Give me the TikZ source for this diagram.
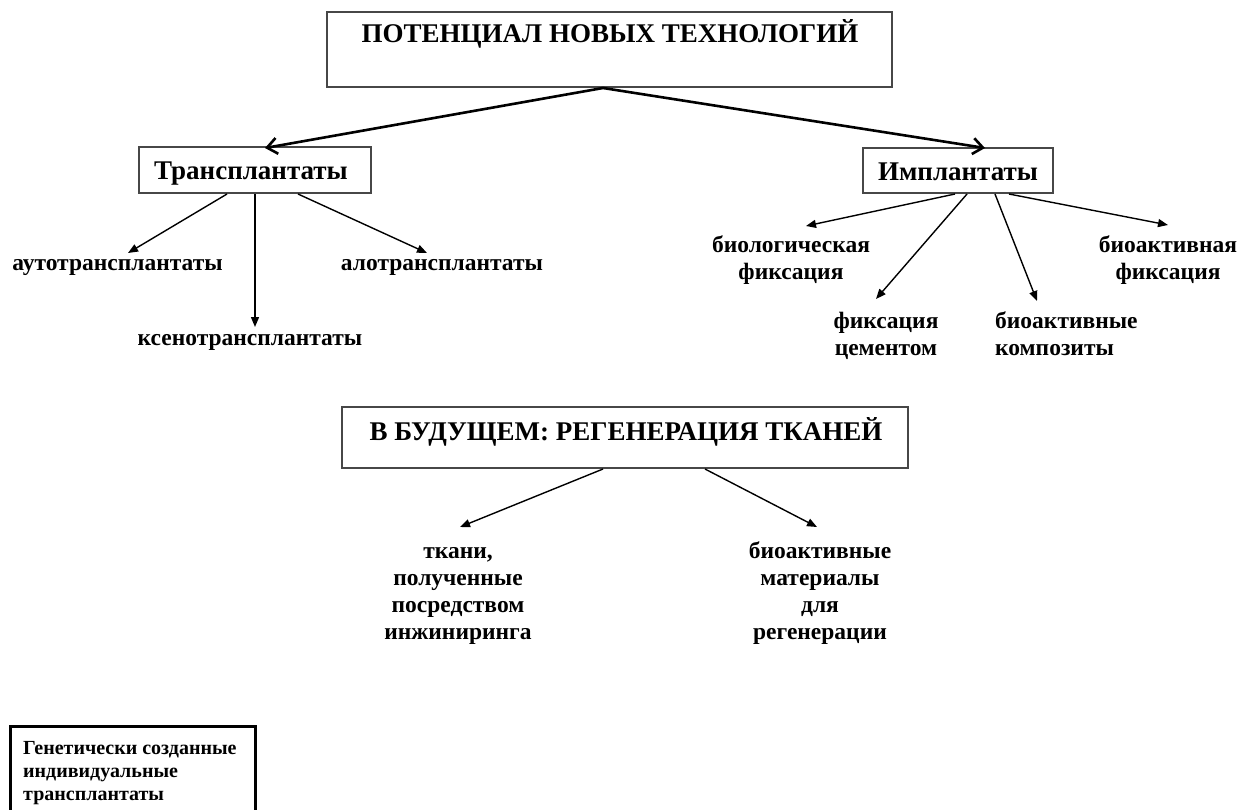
\documentclass[tikz,border=0pt]{standalone}
\usepackage{fontspec}
\setmainfont{Liberation Serif}
\usetikzlibrary{arrows.meta}
\begin{document}
\begin{tikzpicture}[x=1pt,y=-1pt,
  box/.style={draw=black!72, line width=2pt, fill=white, inner sep=0pt},
  ttl/.style={font=\bfseries\fontsize{27}{32}\selectfont, inner sep=0pt},
  lbl/.style={font=\bfseries\fontsize{23.5}{27}\selectfont, inner sep=0pt, align=center, anchor=base},
  bigarrow/.style={line width=2.6pt, -{Straight Barb[length=10pt,width=16pt,line width=2.6pt]}},
  arr/.style={line width=1.4pt, -{Triangle[length=10pt,width=8pt]}}]
\useasboundingbox (0,0) rectangle (1251,809);
\clip (0,0) rectangle (1251,809);
\fill[white] (0,0) rectangle (1251,809);

% main boxes
\node[box, minimum width=565pt, minimum height=75pt] (top) at (609.5,49.5) {};
\node[ttl] (toptext) at (610,34) {ПОТЕНЦИАЛ НОВЫХ ТЕХНОЛОГИЙ};
\node[box, minimum width=232pt, minimum height=46pt] (tr) at (255,170) {};
\node[ttl] (trtext) at (251,174) {Трансплантаты};
\node[box, minimum width=190pt, minimum height=45pt] (im) at (958,170.5) {};
\node[ttl] (imtext) at (958,172) {Имплантаты};
\node[box, minimum width=566pt, minimum height=61pt] (fut) at (625,437.5) {};
\node[ttl] (futtext) at (626,432) {В БУДУЩЕМ: РЕГЕНЕРАЦИЯ ТКАНЕЙ};

% arrow tips
\coordinate (ta) at (265,148);
\coordinate (ti) at (985,148);
\coordinate (a1) at (128,253);
\coordinate (a2) at (255,327);
\coordinate (a3) at (427,253);
\coordinate (b1) at (806,226);
\coordinate (b2) at (876,299);
\coordinate (b3) at (1037,301);
\coordinate (b4) at (1168,225);
\coordinate (c1) at (460,527);
\coordinate (c2) at (817,527);

% labels (base = baseline of the last line)
\node[lbl] (auto) at (117.5,270) {аутотрансплантаты};
\node[lbl] (xeno) at (250,345) {ксенотрансплантаты};
\node[lbl] (allo) at (442,270) {алотрансплантаты};
\node[lbl] (biofix) at (791,279) {биологическая\\фиксация};
\node[lbl] (cem) at (886,355) {фиксация\\цементом};
\node[lbl, align=left, anchor=base west] (comp) at (995,355) {биоактивные\\композиты};
\node[lbl] (bafix) at (1168,279) {биоактивная\\фиксация};
\node[lbl] (tiss) at (458,639) {ткани,\\полученные\\посредством\\инжиниринга};
\node[lbl] (mat) at (820,639) {биоактивные\\материалы\\для\\регенерации};

% bottom box
\node[draw, line width=3pt, minimum width=245pt, minimum height=120pt, anchor=north west, inner sep=0pt] (gen) at (9,725) {};
\node[font=\bfseries\fontsize{20}{23}\selectfont, align=left, anchor=base west, inner sep=0pt] (gentext) at (23,800) {Генетически созданные\\индивидуальные\\трансплантаты};

% connectors
\draw[bigarrow] ([xshift=-6.5pt]top.south) -- (ta);
\draw[bigarrow] ([xshift=-6.5pt]top.south) -- (ti);
\draw[arr] ([xshift=-28pt]tr.south) -- (a1);
\draw[arr] (tr.south) -- (a2);
\draw[arr] ([xshift=43pt]tr.south) -- (a3);
\draw[arr] ([xshift=-3pt]im.south) -- (b1);
\draw[arr] ([xshift=9pt]im.south) -- (b2);
\draw[arr] ([xshift=37pt]im.south) -- (b3);
\draw[arr] ([xshift=51pt]im.south) -- (b4);
\draw[arr] ([xshift=-22pt]fut.south) -- (c1);
\draw[arr] ([xshift=80pt]fut.south) -- (c2);
\end{tikzpicture}
\end{document}
